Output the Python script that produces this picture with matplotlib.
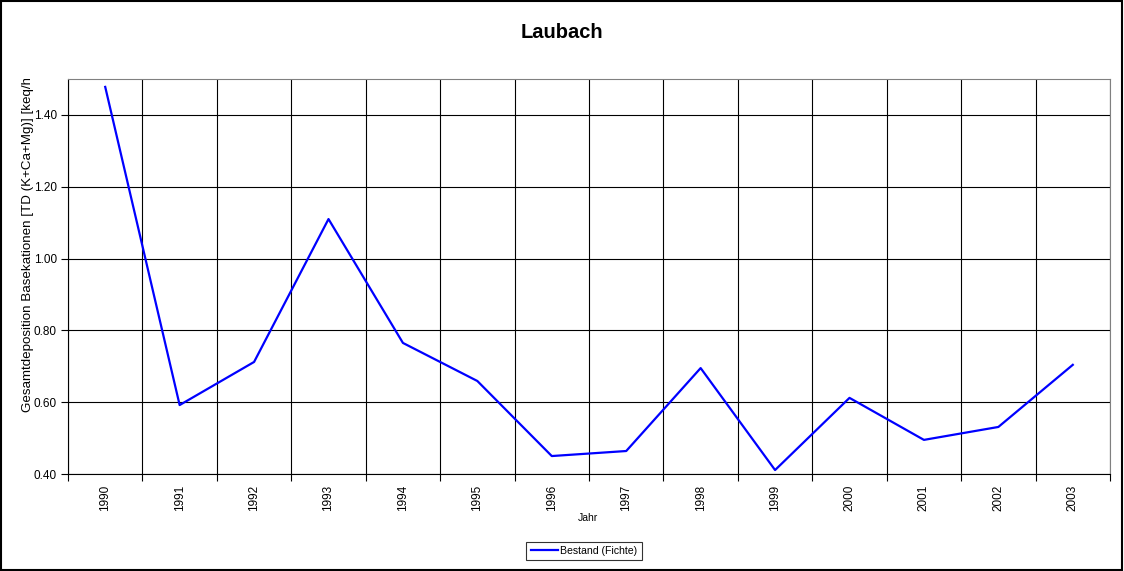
import numpy as np
import matplotlib
matplotlib.use('Agg')
import matplotlib.pyplot as plt
from matplotlib.patches import Rectangle

years = ['1990', '1991', '1992', '1993', '1994', '1995', '1996',
         '1997', '1998', '1999', '2000', '2001', '2002', '2003']
bestand = [1.478, 0.592, 0.712, 1.110, 0.765, 0.659, 0.450,
           0.464, 0.695, 0.411, 0.612, 0.495, 0.531, 0.704]
yticks = [0.40, 0.60, 0.80, 1.00, 1.20, 1.40]

plt.rcParams['font.family'] = ['Liberation Sans', 'DejaVu Sans']

fig = plt.figure(figsize=(11.24, 5.71), dpi=100)
fig.patches.append(Rectangle((0.0005, 0.002), 0.998, 0.996, transform=fig.transFigure,
                             fill=False, edgecolor='black', linewidth=1.5))
ax = fig.add_axes([68 / 1124, 1 - 474 / 571, (1110 - 68) / 1124, (474 - 79) / 571])

x = np.arange(len(years))
ax.plot(x, bestand, color='#0000ff', linewidth=1.6, label='Bestand (Fichte)', zorder=3)

ax.set_xlim(-0.5, len(years) - 0.5)
ax.set_ylim(0.40, 1.50)

# category boundaries get ticks and grid, labels sit in the middle
ax.set_xticks(np.arange(len(years) + 1) - 0.5)
ax.set_xticklabels([])
ax.set_xticks(x, minor=True)
ax.set_xticklabels(years, minor=True, rotation=90, fontsize=8.5)
ax.tick_params(axis='x', which='minor', length=0, pad=8)
ax.tick_params(axis='x', which='major', length=5, direction='out', width=0.8)

ax.set_yticks(yticks)
ax.set_yticklabels(['%.2f' % v for v in yticks], fontsize=8.5)
ax.tick_params(axis='y', length=5, direction='out', width=0.8, pad=3)

ax.grid(True, which='major', color='black', linewidth=0.8, zorder=0)

for side in ['top', 'right']:
    ax.spines[side].set_color('#808080')
    ax.spines[side].set_linewidth(0.8)
for side in ['left', 'bottom']:
    ax.spines[side].set_color('black')
    ax.spines[side].set_linewidth(0.8)

fig.text(588 / 1124, 1 - 518 / 571, 'Jahr', ha='center', va='center', fontsize=7.5)

fig.text(562 / 1124, 1 - 32 / 571, 'Laubach', ha='center', va='center', fontsize=14.5, fontweight='bold')

# the axis title is longer than the plot area and gets cut off at its top
ylab = fig.text(28 / 1124, 1 - 412 / 571, 'Gesamtdeposition Basekationen [TD (K+Ca+Mg)] [keq/ha]',
                rotation=90, ha='center', va='bottom', fontsize=9.6)
ylab.set_clip_on(True)
ylab.set_clip_path(Rectangle((0, 1 - 474 / 571), 1, (474 - 79) / 571, transform=fig.transFigure))

leg = fig.legend(loc='center', bbox_to_anchor=(584 / 1124, 1 - 551 / 571), fontsize=7.6,
                 frameon=True, fancybox=False, edgecolor='black', handlelength=2.6,
                 handletextpad=0.2, borderpad=0.4)
leg.get_frame().set_linewidth(0.8)

fig.savefig('out.png', dpi=100)
